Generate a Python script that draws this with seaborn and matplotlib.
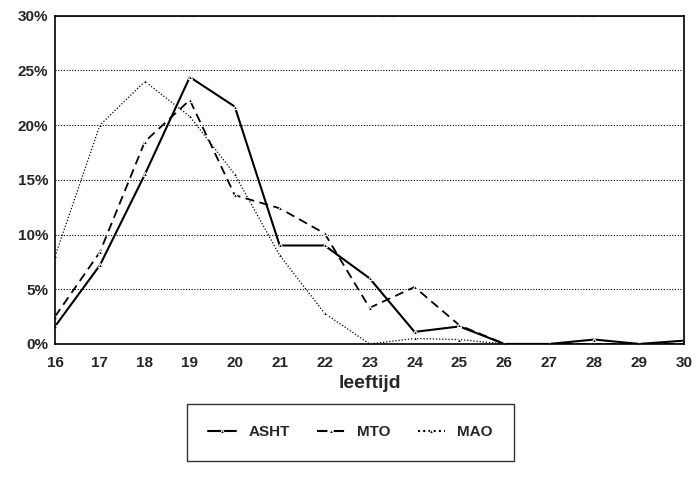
import pandas as pd
import seaborn as sns
import matplotlib.pyplot as plt
from matplotlib.ticker import FuncFormatter

leeftijd = list(range(16, 31))
asht = [1.6, 7.2, 15.5, 24.4, 21.7, 9.0, 9.0, 6.0, 1.1, 1.6, 0.0, 0.0, 0.4, 0.0, 0.3]
mto = [2.5, 8.4, 18.5, 22.3, 13.6, 12.4, 10.1, 3.3, 5.2, 1.7, 0.0, 0.0, 0.0, 0.0, 0.0]
mao = [8.0, 20.0, 24.0, 20.8, 15.5, 8.1, 2.8, 0.0, 0.5, 0.4, 0.0, 0.0, 0.0, 0.0, 0.0]
reeksen = ["ASHT", "MTO", "MAO"]

df = pd.DataFrame({
    "leeftijd": leeftijd * 3,
    "pct": asht + mto + mao,
    "groep": ["ASHT"] * 15 + ["MTO"] * 15 + ["MAO"] * 15,
})

sns.set_style("white")
plt.rcParams['font.family'] = ['Liberation Sans', 'DejaVu Sans']
plt.rcParams['font.weight'] = 'bold'

fig = plt.figure(figsize=(6.96, 4.79), dpi=100)
ax = fig.add_axes([0.079, 0.282, 0.904, 0.685])

ax.yaxis.grid(True, linestyle=(0, (1, 1.5)), color="black", linewidth=0.8)
ax.set_axisbelow(True)

plot = sns.lineplot(data=df, x="leeftijd", y="pct", style="groep", hue="groep",
                    palette=["black"] * 3, style_order=reeksen, hue_order=reeksen,
                    dashes={"ASHT": "", "MTO": (5, 3), "MAO": (1, 1.5)},
                    markers={"ASHT": "^", "MTO": "^", "MAO": "^"}, markersize=3,
                    ax=ax)
for line, lw in zip(ax.lines[:3], [1.5, 1.3, 0.9]):
    line.set_linewidth(lw)

ax.set_xlim(16, 30)
ax.set_ylim(0, 30)
ax.set_xticks(leeftijd)
ax.set_yticks(range(0, 31, 5))
ax.yaxis.set_major_formatter(FuncFormatter(lambda v, p: "%d%%" % v))
ax.tick_params(axis="x", direction="in", length=5, width=1, labelsize=11, pad=9)
ax.tick_params(axis="y", length=0, labelsize=11, pad=5)
for lab in ax.get_xticklabels() + ax.get_yticklabels():
    lab.set_fontweight("bold")
for s in ax.spines.values():
    s.set_color("black")
    s.set_linewidth(1.2)

ax.set_xlabel("leeftijd", fontsize=14, fontweight="bold", labelpad=3)
ax.set_ylabel("")

handles, labels = ax.get_legend_handles_labels()
leg = ax.legend(handles, labels, loc="upper center", bbox_to_anchor=(0.47, -0.16), ncol=3,
                frameon=True, fancybox=False, edgecolor="black", fontsize=11,
                handlelength=1.8, columnspacing=1.8, borderpad=1.4, markerscale=1)
leg.get_frame().set_linewidth(1)
for t in leg.get_texts():
    t.set_fontweight("bold")

fig.savefig("out.png", dpi=100)
